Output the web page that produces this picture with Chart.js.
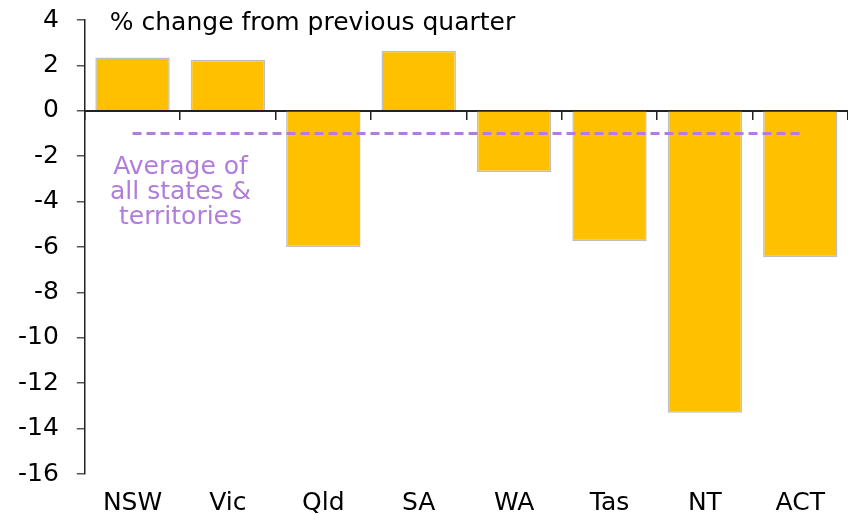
<!DOCTYPE html>
<html>
<head>
<meta charset="utf-8">
<script src="https://cdn.jsdelivr.net/npm/chart.js@4"></script>
<style>
  html, body { margin: 0; padding: 0; background: #fff; }
  #wrap { width: 848px; height: 524px; }
</style>
</head>
<body>
<div id="wrap"><canvas id="chart"></canvas></div>
<script>
const categories = ["NSW", "Vic", "Qld", "SA", "WA", "Tas", "NT", "ACT"];
const changeValues = [2.35, 2.25, -6.0, 2.65, -2.7, -5.75, -13.3, -6.45];
const averageChange = -1.0;
const yMin = -16;
const yMax = 4;
const yStep = 2;
const unitText = "% change from previous quarter";
const averageLabel = ["Average of", "all states &", "territories"];

const fontFamily = "'DejaVu Sans', sans-serif";
const purple = "#b07ddc";

// headline + average label, placed relative to the scales
const notes = {
  id: "notes",
  afterDraw(chart) {
    const { ctx, scales } = chart;
    const x = scales.x, y = scales.y;
    ctx.save();
    ctx.font = "25px " + fontFamily;
    ctx.fillStyle = "#000";
    ctx.textBaseline = "middle";
    ctx.textAlign = "left";
    ctx.fillText(unitText, x.left + 25, y.getPixelForValue(yMax) + 3);

    ctx.fillStyle = purple;
    ctx.textAlign = "center";
    const cx = x.getPixelForValue(0) + 48;
    averageLabel.forEach((line, i) => {
      ctx.fillText(line, cx, y.getPixelForValue(-2.5) + i * 25);
    });
    ctx.restore();
  }
};

new Chart(document.getElementById("chart"), {
  data: {
    labels: categories,
    datasets: [
      {
        type: "line",
        data: categories.map(() => averageChange),
        borderColor: purple,
        borderWidth: 3,
        borderDash: [9, 5],
        pointRadius: 0,
        fill: false,
        order: 0
      },
      {
        type: "bar",
        data: changeValues,
        backgroundColor: "#ffc000",
        borderColor: "#c0c0c0",
        borderWidth: 1.5,
        barPercentage: 0.78,
        categoryPercentage: 1,
        order: 1
      }
    ]
  },
  options: {
    responsive: true,
    maintainAspectRatio: false,
    animation: false,
    layout: { padding: { left: 0, right: 0, top: 0, bottom: 0 } },
    plugins: { legend: { display: false }, tooltip: { enabled: false } },
    scales: {
      x: {
        position: "bottom",
        grid: { display: false },
        border: { display: false },
        ticks: { color: "#000", font: { family: fontFamily, size: 25 }, padding: 6 }
      },
      x2: {
        type: "category",
        labels: categories,
        position: { y: 0 },
        offset: true,
        grid: { offset: true, drawOnChartArea: false, drawTicks: true, tickLength: 8, color: "#222", lineWidth: 1.5 },
        border: { color: "#222", width: 2 },
        ticks: { display: false }
      },
      y: {
        min: yMin,
        max: yMax,
        grid: { drawOnChartArea: false, tickLength: 8, color: "#555", lineWidth: 1.5 },
        border: { color: "#222", width: 1.5 },
        ticks: {
          stepSize: yStep,
          color: "#000",
          font: { family: fontFamily, size: 25 },
          padding: 18
        },
        // tick padding would otherwise push the plot top down
        afterFit(scale) {
          scale.paddingTop = 20;
          scale.paddingBottom = 16;
        }
      }
    }
  },
  plugins: [notes]
});
</script>
</body>
</html>
